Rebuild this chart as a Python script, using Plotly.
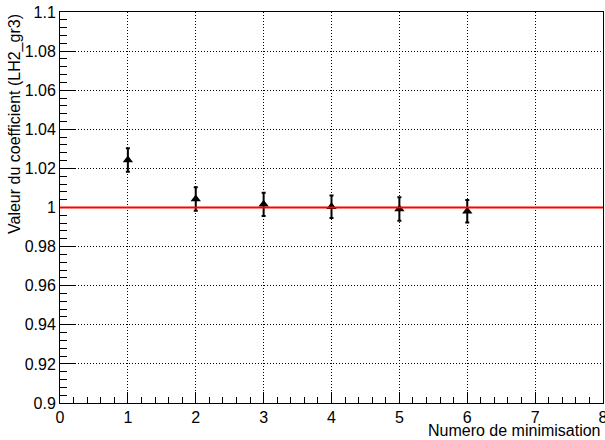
import plotly.graph_objects as go

iterations = [1, 2, 3, 4, 5, 6]
coef_values = [1.0243, 1.0043, 1.0016, 1.0004, 0.9992, 0.9981]
coef_errors = [0.0060, 0.0060, 0.0059, 0.0058, 0.0060, 0.0058]
reference_value = 1.0

x_tick_vals = [0, 1, 2, 3, 4, 5, 6, 7, 8]
x_tick_text = ["0", "1", "2", "3", "4", "5", "6", "7", "8"]
y_tick_vals = [0.9, 0.92, 0.94, 0.96, 0.98, 1.0, 1.02, 1.04, 1.06, 1.08, 1.1]
y_tick_text = ["0.9", "0.92", "0.94", "0.96", "0.98", "1", "1.02", "1.04", "1.06", "1.08", "1.1"]

font_family = "Liberation Sans, Arial, sans-serif"

fig = go.Figure()
fig.add_trace(go.Scatter(
    x=iterations, y=coef_values, mode="markers",
    marker=dict(symbol="triangle-up", size=9, color="black"),
    error_y=dict(type="data", array=coef_errors, visible=True,
                 color="black", thickness=2, width=2),
    showlegend=False,
))

fig.add_shape(type="line", xref="x", yref="y", x0=0, x1=8,
              y0=reference_value, y1=reference_value,
              line=dict(color="red", width=2), layer="above")

fig.update_layout(
    width=605, height=440,
    margin=dict(l=60, r=2, t=12, b=37),
    paper_bgcolor="white", plot_bgcolor="white",
    font=dict(family=font_family, size=16, color="black"),
    xaxis=dict(
        range=[0, 8], tickvals=x_tick_vals, ticktext=x_tick_text,
        ticks="inside", ticklen=11, tickwidth=1, tickcolor="black",
        showline=True, linecolor="black", linewidth=1, mirror=True,
        showgrid=True, gridcolor="black", gridwidth=1, griddash="1px,2px",
        zeroline=False, automargin=False, ticklabeloverflow="allow",
        minor=dict(dtick=0.2, ticks="inside", ticklen=6, tickcolor="black", showgrid=False),
        tickfont=dict(size=16),
    ),
    yaxis=dict(
        range=[0.9, 1.1], tickvals=y_tick_vals, ticktext=y_tick_text,
        ticks="inside", ticklen=15, tickwidth=1, tickcolor="black",
        showline=True, linecolor="black", linewidth=1, mirror=True,
        showgrid=True, gridcolor="black", gridwidth=1, griddash="1px,2px",
        zeroline=False, automargin=False, ticklabeloverflow="allow",
        minor=dict(dtick=0.004, ticks="inside", ticklen=7, tickcolor="black", showgrid=False),
        tickfont=dict(size=16),
    ),
    annotations=[
        dict(text="Valeur du coefficient (LH2_gr3)", xref="paper", yref="paper",
             x=(15 - 60) / 543, y=1.0, xanchor="center", yanchor="top",
             textangle=-90, showarrow=False, font=dict(size=16)),
        dict(text="Numero de minimisation", xref="paper", yref="paper",
             x=1.0, y=(403 - 430) / 391, xanchor="right", yanchor="middle",
             showarrow=False, font=dict(size=16)),
    ],
)

fig.write_html("out.html", config={"displayModeBar": False},
               post_script="document.body.style.margin='0';document.body.style.overflow='hidden';")
